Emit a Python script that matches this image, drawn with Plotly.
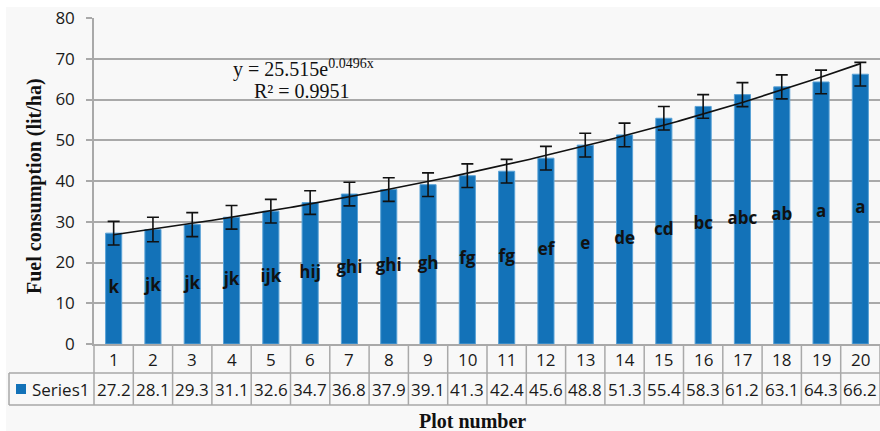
import numpy as np
import plotly.graph_objects as go

# ---- data -------------------------------------------------------------
plot_numbers = list(range(1, 21))
fuel_use = [27.2, 28.1, 29.3, 31.1, 32.6, 34.7, 36.8, 37.9, 39.1, 41.3,
            42.4, 45.6, 48.8, 51.3, 55.4, 58.3, 61.2, 63.1, 64.3, 66.2]
fuel_err = [2.9, 3.0, 2.95, 2.9, 2.9, 2.9, 2.9, 2.9, 2.9, 2.9,
            2.9, 2.9, 2.9, 2.9, 2.9, 2.9, 2.95, 2.95, 2.9, 2.9]
groups = ["k", "jk", "jk", "jk", "ijk", "hij", "ghi", "ghi", "gh", "fg",
          "fg", "ef", "e", "de", "cd", "bc", "abc", "ab", "a", "a"]
y_ticks = [0, 10, 20, 30, 40, 50, 60, 70, 80]
series_name = "Series1"

# exponential trendline y = a * exp(b x)
trend_a = 25.515
trend_b = 0.0496
trend_r2 = 0.9951

# ---- geometry ---------------------------------------------------------
W, H = 880, 431
L, R, T, B = 94, 0, 18, 87
PH = H - T - B
PW = W - L - R

BAR = "#1372b8"
GRID = "#a9a9a9"
SANS = "Open Sans"
SERIF = "Liberation Serif"


def py(p):
    """pixel row -> paper y"""
    return (H - B - p) / PH


def px(p):
    """pixel column -> paper x"""
    return (p - L) / PW


fig = go.Figure()

fig.add_trace(go.Bar(
    x=plot_numbers, y=fuel_use, width=0.41,
    marker=dict(color=BAR, line=dict(color="#5aa2d6", width=1)),
    error_y=dict(type="data", array=fuel_err, color="#111111",
                 thickness=1.6, width=6),
    showlegend=False, hoverinfo="x+y",
))

tx = np.linspace(plot_numbers[0], plot_numbers[-1], 200)
fig.add_trace(go.Scatter(
    x=tx, y=trend_a * np.exp(trend_b * tx), mode="lines",
    line=dict(color="#111111", width=1.6), showlegend=False, hoverinfo="skip",
))

fig.add_trace(go.Scatter(
    x=plot_numbers, y=[v / 2 for v in fuel_use], mode="text", text=groups,
    textfont=dict(family=SANS, size=17, color="#111111", weight="bold"),
    textposition="middle center", cliponaxis=False, showlegend=False,
    hoverinfo="skip",
))

shapes = []
# chart-area background
shapes.append(dict(type="rect", xref="paper", yref="paper",
                   x0=px(6), x1=1, y0=py(H), y1=py(7),
                   fillcolor="#f8f8f8", line=dict(width=0), layer="below"))

# data table grid
row1_bottom, row2_bottom = 373, 405
for yb in (row1_bottom, row2_bottom):
    shapes.append(dict(type="line", xref="paper", yref="paper",
                       x0=px(9), x1=1, y0=py(yb), y1=py(yb),
                       line=dict(color=GRID, width=1.5)))
for k in range(len(plot_numbers) + 1):
    xk = k / len(plot_numbers)
    shapes.append(dict(type="line", xref="paper", yref="paper",
                       x0=xk, x1=xk, y0=py(row2_bottom), y1=py(H - B),
                       line=dict(color=GRID, width=1.5)))
shapes.append(dict(type="line", xref="paper", yref="paper",
                   x0=px(9), x1=px(9), y0=py(row2_bottom), y1=py(row1_bottom),
                   line=dict(color=GRID, width=1.5)))
# legend key in the table
shapes.append(dict(type="rect", xref="paper", yref="paper",
                   x0=px(16), x1=px(26), y0=py(394), y1=py(384),
                   fillcolor=BAR, line=dict(width=0)))

annotations = []
table_font = dict(family=SANS, size=17, color="#1a1a1a")
for n, v in zip(plot_numbers, fuel_use):
    annotations.append(dict(x=n, xref="x", y=py(359.5), yref="paper",
                            text=str(n), showarrow=False, font=table_font,
                            xanchor="center", yanchor="middle"))
    annotations.append(dict(x=n, xref="x", y=py(389.5), yref="paper",
                            text=f"{v:.1f}", showarrow=False, font=table_font,
                            xanchor="center", yanchor="middle"))
annotations.append(dict(x=px(30), y=py(389.5), xref="paper", yref="paper",
                        text=series_name, showarrow=False, font=table_font,
                        xanchor="left", yanchor="middle"))

# axis titles
annotations.append(dict(x=px(34), y=py(186), xref="paper", yref="paper",
                        text="<b>Fuel consumption (lit/ha)</b>", textangle=-90,
                        showarrow=False,
                        font=dict(family=SERIF, size=20, color="#111111"),
                        xanchor="center", yanchor="middle"))
annotations.append(dict(x=px(472), y=py(421), xref="paper", yref="paper",
                        text="<b>Plot number</b>", showarrow=False,
                        font=dict(family=SERIF, size=20, color="#111111"),
                        xanchor="center", yanchor="middle"))

# trendline equation
eq_font = dict(family=SERIF, size=20, color="#111111")
annotations.append(dict(x=px(303), y=py(68), xref="paper", yref="paper",
                        text=f"y = {trend_a}e<sup>{trend_b}x</sup>",
                        showarrow=False, font=eq_font,
                        xanchor="center", yanchor="middle"))
annotations.append(dict(x=px(302), y=py(91), xref="paper", yref="paper",
                        text=f"R² = {trend_r2}", showarrow=False, font=eq_font,
                        xanchor="center", yanchor="middle"))

fig.update_layout(
    width=W, height=H,
    margin=dict(l=L, r=R, t=T, b=B, pad=0),
    paper_bgcolor="white", plot_bgcolor="rgba(0,0,0,0)",
    shapes=shapes, annotations=annotations,
    showlegend=False, bargap=0.59,
    xaxis=dict(range=[0.5, 20.5], showticklabels=False, showgrid=False,
               zeroline=False, showline=True, linecolor=GRID, linewidth=1.5,
               ticks="", fixedrange=True),
    yaxis=dict(range=[0, 80], tickvals=y_ticks, showgrid=True,
               gridcolor=GRID, gridwidth=1.5, zeroline=False,
               showline=True, linecolor=GRID, linewidth=1.5,
               ticks="outside", ticklen=6, tickcolor=GRID, tickwidth=1.5,
               ticklabelstandoff=8,
               tickfont=dict(family=SANS, size=17, color="#1a1a1a"),
               fixedrange=True),
)

fig.write_html("out.html")
